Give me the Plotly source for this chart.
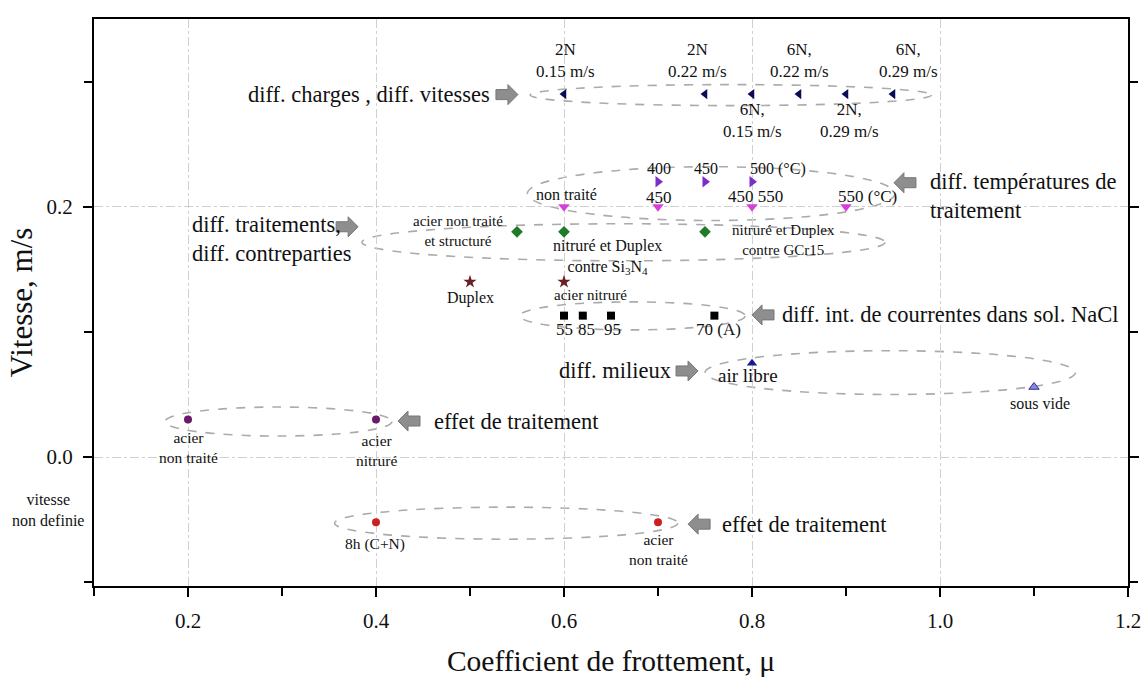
import plotly.graph_objects as go

# ---------------- data ----------------
charge_x = [0.60, 0.75, 0.80, 0.85, 0.90, 0.95]
charge_y = [0.29, 0.29, 0.29, 0.29, 0.29, 0.29]

temp_x = [0.70, 0.75, 0.80]
temp_y = [0.22, 0.22, 0.22]

temp2_x = [0.60, 0.70, 0.80, 0.90]
temp2_y = [0.20, 0.20, 0.20, 0.20]

contre_x = [0.55, 0.60, 0.75]
contre_y = [0.18, 0.18, 0.18]

duplex_x = [0.50, 0.60]
duplex_y = [0.14, 0.14]

nacl_x = [0.60, 0.62, 0.65, 0.76]
nacl_y = [0.113, 0.113, 0.113, 0.113]

air_x = [0.80]
air_y = [0.075]
vide_x = [1.10]
vide_y = [0.056]

effet1_x = [0.20, 0.40]
effet1_y = [0.03, 0.03]

effet2_x = [0.40, 0.70]
effet2_y = [-0.052, -0.052]

x_ticks = [0.2, 0.4, 0.6, 0.8, 1.0, 1.2]
y_ticks = [0.0, 0.2]

FONT = "Liberation Serif, Times New Roman, serif"

fig = go.Figure()

def add_pts(x, y, symbol, color, size, line_color=None):
    fig.add_trace(go.Scatter(
        x=x, y=y, mode="markers", showlegend=False,
        marker=dict(symbol=symbol, color=color, size=size,
                    line=dict(color=line_color or color, width=1 if line_color else 0)),
        cliponaxis=False))

add_pts(charge_x, charge_y, "triangle-left", "#0b0b55", 9)
add_pts(temp_x, temp_y, "triangle-right", "#7a2fc8", 10)
add_pts(temp2_x, temp2_y, "triangle-down", "#d640d6", 10)
add_pts(contre_x, contre_y, "diamond", "#1f7a2a", 9)
add_pts(duplex_x, duplex_y, "star", "#6b1f24", 10)
add_pts(nacl_x, nacl_y, "square", "#000000", 8)
add_pts(air_x, air_y, "triangle-up", "#1a1a90", 9)
add_pts(vide_x, vide_y, "triangle-up", "#8a8ad8", 9, "#2a2aa0")
add_pts(effet1_x, effet1_y, "circle", "#6a1a6a", 8)
add_pts(effet2_x, effet2_y, "circle", "#cc2020", 8)

# ---------------- dashed ellipses ----------------
ellipses = [
    (0.564, 0.991, 0.2808, 0.2976),
    (0.561, 0.952, 0.189, 0.232),
    (0.385, 0.9415, 0.1568, 0.1864),
    (0.553, 0.7926, 0.1016, 0.124),
    (0.750, 1.144, 0.050, 0.085),
    (0.1755, 0.417, 0.0168, 0.040),
    (0.356, 0.721, -0.0656, -0.040),
]
for x0, x1, y0, y1 in ellipses:
    fig.add_shape(type="circle", xref="x", yref="y", x0=x0, x1=x1, y0=y0, y1=y1,
                  line=dict(color="#ababab", width=1.6, dash="dash"), layer="below")

# ---------------- block arrows ----------------
PXX = 1.0 / 940.0
PXY = 1.0 / 1250.0

def block_arrow(tx, ty, d):
    L = 22 * PXX
    head = 10 * PXX
    hs = 5 * PXY
    hh = 10 * PXY
    bx = tx - d * L
    nx = tx - d * head
    path = (f"M {bx},{ty-hs} L {nx},{ty-hs} L {nx},{ty-hh} L {tx},{ty} "
            f"L {nx},{ty+hh} L {nx},{ty+hs} L {bx},{ty+hs} Z")
    fig.add_shape(type="path", path=path, xref="x", yref="y",
                  fillcolor="#8e8e8e", line=dict(color="#767676", width=1))

arrows = [
    (0.551, 0.2896, 1),
    (0.951, 0.2192, -1),
    (0.381, 0.184, 1),
    (0.800, 0.1136, -1),
    (0.7426, 0.0688, 1),
    (0.4234, 0.0288, -1),
    (0.732, -0.0536, -1),
]
for tx, ty, d in arrows:
    block_arrow(tx, ty, d)

# ---------------- texts ----------------
def txt(x, y, s, size=17, xanchor="center", align="center", xref="x"):
    fig.add_annotation(x=x, y=y, xref=xref, yref="y", text=s, showarrow=False,
                       xanchor=xanchor, yanchor="middle", align=align,
                       font=dict(family=FONT, size=size, color="#111111"))

BIG = 22.5
# big annotation texts
txt(0.5234, 0.2896, "diff. charges , diff. vitesses", BIG, "right", "right")
txt(0.9872, 0.2088, "diff. températures de<br>traitement", BIG, "left", "left")
txt(0.2021, 0.1744, "diff. traitements,<br>diff. contreparties", BIG, "left", "left")
txt(0.8298, 0.1136, "diff. int. de courrentes dans sol. NaCl", BIG, "left", "left")
txt(0.716, 0.0688, "diff. milieux", BIG, "right", "right")
txt(0.4596, 0.0288, "effet de traitement", BIG, "left", "left")
txt(0.766, -0.0536, "effet de traitement", BIG, "left", "left")

# point labels
txt(0.602, 0.3168, "2N<br>0.15 m/s")
txt(0.7415, 0.3168, "2N<br>0.22 m/s")
txt(0.851, 0.3168, "6N,<br>0.22 m/s")
txt(0.966, 0.3168, "6N,<br>0.29 m/s")
txt(0.800, 0.269, "6N,<br>0.15 m/s")
txt(0.904, 0.269, "2N,<br>0.29 m/s")

txt(0.701, 0.2304, "400", 16)
txt(0.751, 0.2304, "450", 16)
txt(0.8277, 0.2304, "500 (°C)", 16)
txt(0.603, 0.2096, "non traité", 16)
txt(0.701, 0.2072, "450", 17)
txt(0.804, 0.208, "450 550", 17)
txt(0.923, 0.208, "550 (°C)", 17)

txt(0.487, 0.1808, "acier non traité<br>et structuré", 15)
txt(0.646, 0.160, "nitruré et Duplex<br>contre Si<sub>3</sub>N<sub>4</sub>", 16)
txt(0.834, 0.1736, "nitruré et Duplex<br>contre GCr15", 15)

txt(0.501, 0.1272, "Duplex", 16)
txt(0.628, 0.1296, "acier nitruré", 15)

txt(0.601, 0.1016, "55", 17)
txt(0.6234, 0.1016, "85", 17)
txt(0.652, 0.1016, "95", 17)
txt(0.764, 0.1016, "70 (A)", 17)

txt(0.7957, 0.0648, "air libre", 19)
txt(1.106, 0.0432, "sous vide", 16)

txt(0.200, 0.008, "acier<br>non traité", 15.5)
txt(0.401, 0.0056, "acier<br>nitruré", 15.5)

txt(0.399, -0.0696, "8h (C+N)", 15.5)
txt(0.701, -0.0736, "acier<br>non traité", 15.5)

txt(-0.0445, -0.0424, "vitesse<br>non definie", 16, xref="paper")

# ---------------- axes ----------------
axis_common = dict(
    showline=True, linecolor="#000000", linewidth=2,
    ticks="outside", ticklen=9, tickwidth=1.5, tickcolor="#000000",
    showgrid=True, gridcolor="#d0d0d0", gridwidth=1, griddash="dashdot",
    zeroline=False, automargin=False, ticklabelstandoff=6,
    tickfont=dict(family=FONT, size=21, color="#111111"),
)

fig.update_xaxes(
    **axis_common, range=[0.1, 1.2], mirror=True,
    tickmode="array", tickvals=x_ticks, ticktext=[f"{v:.1f}" for v in x_ticks],
    minor=dict(dtick=0.1, tick0=0.0, ticks="outside", ticklen=8, tickcolor="#000000",
               showgrid=False),
    title=dict(text="Coefficient de frottement, μ", standoff=26,
               font=dict(family=FONT, size=29.5, color="#111111")),
)
fig.update_yaxes(
    **axis_common, range=[-0.103, 0.35], mirror="ticks",
    tickmode="array", tickvals=y_ticks, ticktext=[f"{v:.1f}" for v in y_ticks],
    minor=dict(dtick=0.1, tick0=0.0, ticks="outside", ticklen=8, tickcolor="#000000",
               showgrid=False),
    title=dict(text="Vitesse, m/s", standoff=5,
               font=dict(family=FONT, size=31, color="#111111")),
)

fig.update_layout(
    width=1145, height=677,
    margin=dict(l=94, r=17, t=19, b=91),
    plot_bgcolor="#ffffff", paper_bgcolor="#ffffff",
    font=dict(family=FONT, color="#111111"),
    showlegend=False,
)

# remove the default page margin so the figure fills the window exactly
fig.write_html(
    "out.html",
    config={"displayModeBar": False},
    post_script="document.body.style.margin='0';document.body.style.overflow='hidden';",
)
